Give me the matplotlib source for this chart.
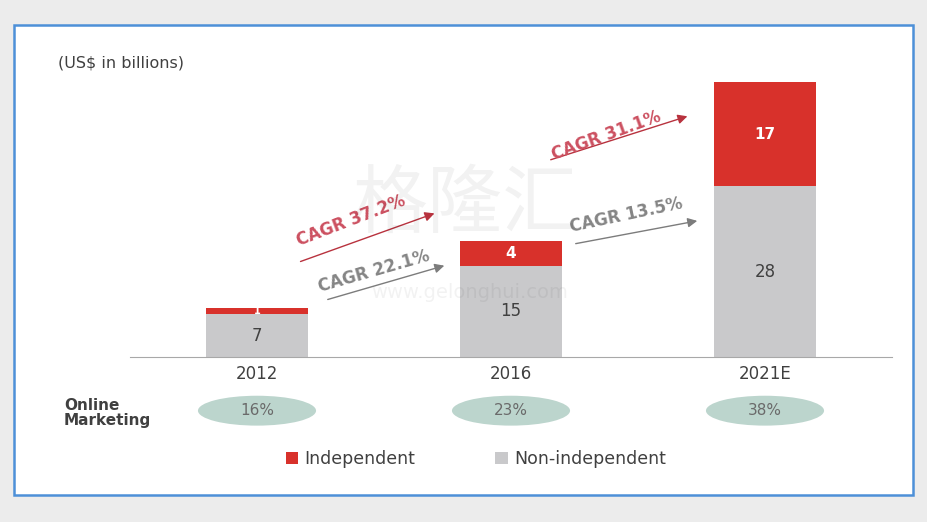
import matplotlib.pyplot as plt
from matplotlib.patches import Rectangle, Ellipse

# data
years = ['2012', '2016', '2021E']
non_independent = [7, 15, 28]
independent = [1, 4, 17]
online_share = ['16%', '23%', '38%']
cagr_red = ['CAGR 37.2%', 'CAGR 31.1%']
cagr_gray = ['CAGR 22.1%', 'CAGR 13.5%']

W, H = 927, 522
fig = plt.figure(figsize=(W / 100, H / 100), dpi=100, facecolor='#ececec')

# white panel with blue border
fig.patches.append(Rectangle((14 / W, 1 - 495 / H), (913 - 14) / W, (495 - 25) / H,
                             transform=fig.transFigure, facecolor='white',
                             edgecolor='#4d90d8', linewidth=1.8, zorder=-1))

ax = fig.add_axes([130 / W, 1 - 357 / H, (892 - 130) / W, (357 - 52) / H])
ax.set_facecolor('none')
x = list(range(len(years)))
red = '#d8312b'
gray = '#c9c9cb'
ax.bar(x, non_independent, width=0.4, color=gray, label='Non-independent', zorder=2)
ax.bar(x, independent, width=0.4, bottom=non_independent, color=red, label='Independent', zorder=2)
ax.set_xlim(-0.5, 2.5)
ax.set_ylim(0, 50)
for s in ['top', 'right', 'left']:
    ax.spines[s].set_visible(False)
ax.spines['bottom'].set_color('#a8a8a8')
ax.set_yticks([])
ax.set_xticks(x)
ax.set_xticklabels(years, fontsize=12, color='#404040')
ax.tick_params(axis='x', length=0, pad=6)

for i in x:
    ax.text(i, non_independent[i] / 2, str(non_independent[i]), ha='center', va='center',
            fontsize=12, color='#404040', zorder=3)
    ax.text(i, non_independent[i] + independent[i] / 2, str(independent[i]), ha='center',
            va='center', fontsize=11 if independent[i] > 1 else 7, fontweight='bold',
            color='white', zorder=3)

# CAGR arrows
arrows_red = [((0.161, 15.5), (0.709, 23.7)), ((1.146, 32.2), (1.705, 39.6))]
arrows_gray = [((0.268, 9.3), (0.748, 15.1)), ((1.244, 18.5), (1.744, 22.4))]
for (s, e) in arrows_red:
    ax.annotate('', xy=e, xytext=s,
                arrowprops=dict(arrowstyle='-|>', color='#b8323e', lw=1, mutation_scale=14))
for (s, e) in arrows_gray:
    ax.annotate('', xy=e, xytext=s,
                arrowprops=dict(arrowstyle='-|>', color='#7c7c7c', lw=1, mutation_scale=14))
txt_red = [(0.372, 22.4, 21), (1.374, 36.3, 20)]
txt_gray = [(0.462, 14.0, 16), (1.453, 23.2, 12)]
for lab, (tx, ty, rot) in zip(cagr_red, txt_red):
    ax.text(tx, ty, lab, rotation=rot, rotation_mode='anchor', ha='center', va='center',
            fontsize=12, fontweight='bold', color='#cc5060')
for lab, (tx, ty, rot) in zip(cagr_gray, txt_gray):
    ax.text(tx, ty, lab, rotation=rot, rotation_mode='anchor', ha='center', va='center',
            fontsize=12, fontweight='bold', color='#858585')

# online marketing ellipses
for i in x:
    ax.add_patch(Ellipse((i, -8.8), 0.465, 4.9, facecolor='#bcd5cd', edgecolor='none',
                         clip_on=False))
    ax.text(i, -8.8, online_share[i], ha='center', va='center', fontsize=11,
            color='#6a6a6a', clip_on=False)

fig.text(64 / W, 1 - 413 / H, 'Online\nMarketing', ha='left', va='center', fontsize=11,
         fontweight='bold', color='#404040', linespacing=1.0)
fig.text(58 / W, 1 - 63 / H, '(US$ in billions)', ha='left', va='center', fontsize=11.5,
         color='#404040')

# watermark
fig.text(465 / W, 1 - 205 / H, '格隆汇', ha='center', va='center', fontsize=54,
         family=['Noto Sans CJK SC', 'DejaVu Sans'], color='#000000', alpha=0.05)
fig.text(470 / W, 1 - 292 / H, 'www.gelonghui.com', ha='center', va='center', fontsize=14,
         color='#000000', alpha=0.05)

handles, labels = ax.get_legend_handles_labels()
fig.legend(handles[::-1], labels[::-1], loc='center', ncol=2,
           bbox_to_anchor=(476 / W, 1 - 459 / H), frameon=False, fontsize=12.5,
           handlelength=0.7, handleheight=0.7, handletextpad=0.4, columnspacing=4.6,
           labelcolor='#404040')

fig.savefig('out.png', dpi=100, facecolor=fig.get_facecolor())
